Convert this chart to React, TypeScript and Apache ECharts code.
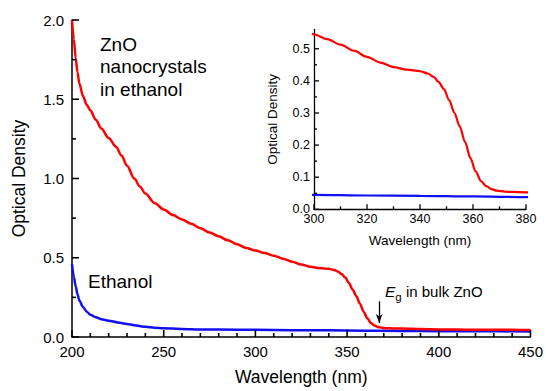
import React, { useEffect, useRef } from "react";
import * as echarts from "echarts";

const znoWavelength = [200, 201, 202, 203, 204, 206, 208, 210, 213, 216, 220, 224, 227, 230, 234, 237, 240, 245, 250, 255, 260, 265, 270, 275, 280, 285, 290, 295, 300, 305, 310, 315, 320, 325, 330, 335, 340, 343, 345, 347, 349, 351, 353, 355, 357, 359, 361, 363, 365, 367, 369, 372, 375, 380, 390, 400, 410, 420, 430, 440, 450];
const znoOD = [2.0, 1.88, 1.76, 1.67, 1.6, 1.52, 1.465, 1.43, 1.37, 1.315, 1.255, 1.2, 1.145, 1.08, 1.0, 0.95, 0.905, 0.845, 0.805, 0.77, 0.742, 0.714, 0.686, 0.66, 0.635, 0.61, 0.585, 0.562, 0.545, 0.53, 0.513, 0.494, 0.475, 0.457, 0.443, 0.435, 0.43, 0.423, 0.413, 0.397, 0.375, 0.34, 0.3, 0.258, 0.21, 0.16, 0.118, 0.088, 0.072, 0.063, 0.058, 0.055, 0.054, 0.053, 0.05, 0.048, 0.047, 0.046, 0.045, 0.045, 0.044];

const ethWavelength = [200, 201, 202, 203, 204, 206, 208, 210, 213, 216, 220, 225, 230, 235, 240, 245, 250, 260, 270, 280, 300, 320, 340, 360, 380, 400, 420, 450];
const ethOD = [0.46, 0.38, 0.32, 0.27, 0.23, 0.19, 0.16, 0.14, 0.125, 0.112, 0.103, 0.092, 0.082, 0.072, 0.064, 0.058, 0.055, 0.051, 0.048, 0.047, 0.045, 0.043, 0.042, 0.04, 0.038, 0.037, 0.036, 0.035];

// tick positions
const mainXMajor = [200, 250, 300, 350, 400, 450];
const mainXMinor = [210, 220, 230, 240, 260, 270, 280, 290, 310, 320, 330, 340, 360, 370, 380, 390, 410, 420, 430, 440];
const mainYMajor = [0, 0.5, 1.0, 1.5, 2.0];
const mainYMinor = [0.25, 0.75, 1.25, 1.75];
const insetXMajor = [300, 320, 340, 360, 380];
const insetXMinor = [310, 330, 350, 370];
const insetYMajor = [0, 0.1, 0.2, 0.3, 0.4, 0.5];
const insetYMinor = [0.05, 0.15, 0.25, 0.35, 0.45];

const arrowX = 367.5;
const arrowFrom = 0.225;
const arrowTo = 0.088;

const FONT = "Liberation Sans, Arial, sans-serif";
const INK = "#000";

function tickData(xMaj: number[], xMin: number[], yMaj: number[], yMin: number[]) {
  return [
    ...xMaj.map((v) => [v, 0]),
    ...xMin.map((v) => [v, 1]),
    ...yMaj.map((v) => [v, 2]),
    ...yMin.map((v) => [v, 3]),
  ];
}

function tickRenderer(axisXMin: number, axisYMin: number, lens: number[], width: number) {
  return (_params: any, api: any) => {
    const v = api.value(0);
    const kind = api.value(1);
    const len = lens[kind];
    if (kind < 2) {
      const p = api.coord([v, axisYMin]);
      return { type: "line", shape: { x1: p[0], y1: p[1], x2: p[0], y2: p[1] - len }, style: { stroke: INK, lineWidth: width } };
    }
    const p = api.coord([axisXMin, v]);
    return { type: "line", shape: { x1: p[0], y1: p[1], x2: p[0] + len, y2: p[1] }, style: { stroke: INK, lineWidth: width } };
  };
}

export default function App() {
  const ref = useRef<HTMLDivElement>(null);
  useEffect(() => {
    if (!ref.current) return;
    const chart = echarts.init(ref.current, null, { renderer: "svg" });
    const zno = znoWavelength.map((w, i) => [w, znoOD[i]]);
    const eth = ethWavelength.map((w, i) => [w, ethOD[i]]);
    chart.setOption({
      animation: false,
      textStyle: { fontFamily: FONT },
      grid: [
        { left: 72, right: 14, top: 20, bottom: 51 },
        { left: 314, right: 20, top: 29.5, bottom: 181.7 },
      ],
      xAxis: [
        {
          gridIndex: 0, type: "value", min: 200, max: 450, interval: 50,
          axisLine: { show: true, lineStyle: { color: INK, width: 1.5 } }, splitLine: { show: false },
          axisTick: { show: false }, minorTick: { show: false },
          axisLabel: { color: "#000", fontSize: 15, margin: 7, fontFamily: FONT },
          name: "Wavelength (nm)", nameLocation: "middle", nameGap: 31,
          nameTextStyle: { color: "#000", fontSize: 17.5, fontFamily: FONT },
        },
        {
          gridIndex: 1, type: "value", min: 300, max: 380, interval: 20,
          axisLine: { show: true, lineStyle: { color: INK, width: 1.3 } }, splitLine: { show: false },
          axisTick: { show: false }, minorTick: { show: false },
          axisLabel: { color: "#000", fontSize: 12.5, margin: 3, fontFamily: FONT },
          name: "Wavelength (nm)", nameLocation: "middle", nameGap: 24,
          nameTextStyle: { color: "#000", fontSize: 13.5, fontFamily: FONT },
        },
      ],
      yAxis: [
        {
          gridIndex: 0, type: "value", min: 0, max: 2, interval: 0.5,
          axisLine: { show: true, lineStyle: { color: INK, width: 1.5 } }, splitLine: { show: false },
          axisTick: { show: false }, minorTick: { show: false },
          axisLabel: { color: "#000", fontSize: 15, margin: 8, fontFamily: FONT, formatter: (v: number) => v.toFixed(1) },
          name: "Optical Density", nameLocation: "middle", nameGap: 44,
          nameTextStyle: { color: "#000", fontSize: 17.5, fontFamily: FONT },
        },
        {
          gridIndex: 1, type: "value", min: 0, max: 0.56, interval: 0.1,
          axisLine: { show: true, lineStyle: { color: INK, width: 1.3 } }, splitLine: { show: false },
          axisTick: { show: false }, minorTick: { show: false },
          axisLabel: { color: "#000", fontSize: 12.5, margin: 4, fontFamily: FONT, customValues: insetYMajor, formatter: (v: number) => v.toFixed(1) },
          name: "Optical Density", nameLocation: "middle", nameGap: 35,
          nameTextStyle: { color: "#000", fontSize: 13.5, fontFamily: FONT },
        },
      ],
      series: [
        {
          type: "line", xAxisIndex: 0, yAxisIndex: 0, data: eth, showSymbol: false, smooth: 0.3, smoothMonotone: "x",
          lineStyle: { color: "#1010f0", width: 2.5 },
        },
        {
          type: "line", xAxisIndex: 0, yAxisIndex: 0, data: zno, showSymbol: false, smooth: 0.3, smoothMonotone: "x",
          lineStyle: { color: "#ff0000", width: 2.5 },
          markLine: {
            silent: true, symbol: ["none", "arrow"], symbolSize: [5, 9],
            label: { show: false },
            lineStyle: { color: "#000", width: 1.3, type: "solid" },
            data: [[{ coord: [arrowX, arrowFrom] }, { coord: [arrowX, arrowTo] }]],
          },
        },
        {
          type: "line", xAxisIndex: 1, yAxisIndex: 1, data: eth, showSymbol: false, smooth: 0.3, smoothMonotone: "x",
          lineStyle: { color: "#1010f0", width: 2.2 }, clip: true,
        },
        {
          type: "line", xAxisIndex: 1, yAxisIndex: 1, data: zno, showSymbol: false, smooth: 0.3, smoothMonotone: "x",
          lineStyle: { color: "#ff0000", width: 2.2 }, clip: true,
        },
        {
          type: "custom", xAxisIndex: 0, yAxisIndex: 0, silent: true, z: 10, clip: false,
          data: tickData(mainXMajor, mainXMinor, mainYMajor, mainYMinor),
          renderItem: tickRenderer(200, 0, [7, 4, 7, 4], 1.6),
        },
        {
          type: "custom", xAxisIndex: 1, yAxisIndex: 1, silent: true, z: 10, clip: false,
          data: tickData(insetXMajor, insetXMinor, insetYMajor, insetYMinor),
          renderItem: tickRenderer(300, 0, [5, 3, 5, 3], 1.3),
        },
      ],
      graphic: [
        {
          type: "text", left: 100, top: 33,
          style: { text: "ZnO\nnanocrystals\nin ethanol", font: `19px ${FONT}`, fill: "#000", lineHeight: 22.5 },
        },
        {
          type: "text", left: 88, top: 272,
          style: { text: "Ethanol", font: `19px ${FONT}`, fill: "#000" },
        },
        {
          type: "text", left: 385, top: 283,
          style: {
            text: "{e|E}{g|g}{t| in bulk ZnO}",
            rich: {
              e: { fontSize: 15.5, fontStyle: "italic", fontFamily: FONT, fill: "#000", verticalAlign: "bottom" },
              g: { fontSize: 11.5, fontFamily: FONT, fill: "#000", padding: [0, 0, -4, 0], verticalAlign: "bottom" },
              t: { fontSize: 15, fontFamily: FONT, fill: "#000", verticalAlign: "bottom" },
            },
          },
        },
      ],
    });
    return () => chart.dispose();
  }, []);
  return <div ref={ref} style={{ width: 546, height: 391, position: "absolute", left: 0, top: 0, background: "#fff" }} />;
}
